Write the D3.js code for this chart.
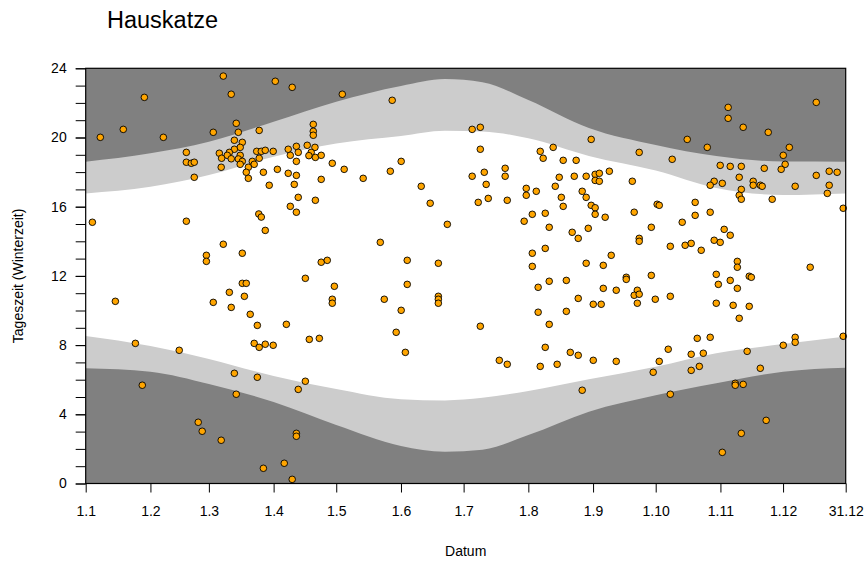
<!DOCTYPE html>
<head>
<meta charset="utf-8">
<script src="https://d3js.org/d3.v7.min.js"></script>
<style>
  body { margin: 0; background: #fff; }
  text { font-family: "Liberation Sans", Arial, sans-serif; fill: #000; }
</style>
</head>
<body>
<div id="chart"></div>
<script>
// x axis: day of year (0 = 1 Jan), tick labels as in the original
var tickDays = [0, 31, 59, 90, 120, 151, 181, 212, 243, 273, 304, 334, 364];
var tickLabels = ["1.1", "1.2", "1.3", "1.4", "1.5", "1.6", "1.7", "1.8", "1.9", "1.10", "1.11", "1.12", "31.12"];
var hourTicks = [0, 4, 8, 12, 16, 20, 24];

// light bands (hours, winter time)
var bandDays = [0, 31, 59, 90, 120, 151, 172, 190, 212, 241, 273, 302, 334, 364];
var dawn     = [6.66, 6.46, 5.75, 4.71, 3.38, 2.17, 1.84, 1.95, 2.80, 4.15, 5.10, 5.79, 6.46, 6.69];
var sunrise  = [8.53, 7.95, 7.20, 6.21, 5.46, 4.87, 4.80, 4.95, 5.35, 6.02, 6.75, 7.53, 8.06, 8.50];
var sunset   = [16.77, 17.15, 17.83, 18.89, 19.66, 20.09, 20.39, 20.35, 19.95, 18.93, 18.09, 17.08, 16.68, 16.77];
var dusk     = [18.60, 19.09, 19.76, 20.91, 22.07, 22.98, 23.38, 23.20, 22.17, 20.55, 19.57, 18.93, 18.61, 18.60];

// sightings: [day of year, hour]
var sightings = [
  [65.9,23.55],[90.8,23.25],[98.9,22.90],[28.1,22.32],[69.7,22.50],[122.9,22.50],[72.1,20.82],[109.0,20.76],[18.0,20.47],[73.1,20.30],
  [109.0,20.36],[109.0,20.13],[61.1,20.30],[83.1,20.41],[7.0,20.01],[37.2,20.01],[71.2,19.84],[75.0,19.72],[106.1,19.55],[109.8,19.43],
  [74.0,19.43],[100.9,19.49],[71.2,19.32],[48.2,19.14],[64.0,19.09],[68.8,19.14],[81.9,19.20],[84.1,19.20],[86.0,19.26],[89.8,19.20],
  [97.0,19.32],[98.0,18.97],[101.8,19.14],[108.0,19.14],[106.9,18.95],[110.0,18.85],[112.8,18.97],[67.8,18.97],[74.0,18.97],[65.1,18.80],
  [69.7,18.77],[73.1,18.76],[75.0,18.62],[83.1,18.80],[79.8,18.62],[48.2,18.57],[50.6,18.51],[52.0,18.57],[100.9,18.62],[118.1,18.51],
  [74.0,18.45],[80.7,18.45],[77.9,18.28],[64.9,18.28],[123.8,18.16],[91.8,18.16],[76.9,17.99],[85.1,17.99],[97.0,17.93],[100.9,17.81],
  [52.0,17.70],[77.9,17.64],[112.8,17.58],[132.9,17.64],[99.9,17.29],[87.9,17.24],[101.8,16.54],[110.0,16.37],[98.0,16.02],
  [146.8,22.15],[185.1,20.47],[189.0,20.59],[242.1,19.89],[265.1,19.14],[280.9,18.74],[189.0,19.32],[217.7,19.20],[223.9,19.43],[219.1,18.80],
  [228.7,18.68],[234.9,18.68],[151.1,18.62],[145.9,18.05],[185.1,17.76],[190.9,17.99],[200.9,18.22],[200.9,17.76],[226.8,17.70],[234.0,17.76],
  [239.7,17.76],[244.0,17.87],[246.0,17.93],[250.8,18.05],[244.0,17.52],[246.0,17.47],[261.8,17.47],[191.8,17.29],[160.7,17.18],[211.0,17.06],
  [224.9,17.18],[237.8,16.89],[215.8,16.89],[211.0,16.66],[165.0,16.20],[188.0,16.25],[192.8,16.48],[201.9,16.37],[227.8,16.54],[239.7,16.54],
  [228.7,16.02],[242.1,16.08],[244.0,15.94],[273.7,16.14],[274.7,16.08],
  [307.7,21.74],[307.7,21.11],[349.9,22.03],[314.9,20.59],[326.9,20.30],[288.1,19.89],[297.7,19.43],[337.0,19.43],[334.1,18.97],[335.0,18.45],
  [333.1,18.16],[303.9,18.39],[308.7,18.33],[314.0,18.33],[325.0,18.22],[349.9,17.81],[356.1,18.05],[359.9,17.99],[313.0,17.70],[301.0,17.47],
  [299.1,17.24],[304.9,17.35],[319.7,17.47],[319.7,17.24],[323.1,17.24],[324.0,17.18],[339.8,17.18],[356.1,17.24],[314.0,17.00],[313.0,16.66],
  [314.0,16.43],[328.8,16.43],[355.2,16.77],[291.9,16.25],[362.8,15.91],
  [3.2,15.10],[48.2,15.16],[82.9,15.58],[84.1,15.40],[100.9,15.68],[86.0,14.63],[65.9,13.83],[57.8,13.19],[57.8,12.84],[75.0,13.31],
  [112.8,12.79],[115.7,12.90],[105.2,11.86],[119.1,11.40],[75.0,11.57],[76.9,11.57],[68.8,11.05],[76.0,10.82],[118.1,10.65],[118.1,10.42],
  [14.2,10.53],[61.1,10.47],[69.7,10.18],[78.8,9.78],[82.2,9.14],[96.1,9.20],[107.1,8.33],[111.9,8.39],[23.8,8.10],[80.7,8.10],
  [86.0,8.05],[89.8,7.99],
  [213.9,15.56],[220.1,15.62],[210.0,15.16],[222.0,14.81],[233.0,14.52],[235.9,14.17],[240.7,14.75],[173.2,14.98],[141.1,13.94],[154.0,12.90],
  [168.9,12.73],[213.9,13.31],[220.1,13.59],[213.9,12.55],[239.7,12.73],[222.0,11.69],[230.2,11.74],[216.7,11.34],[154.0,11.51],[143.0,10.65],
  [168.9,10.82],[168.9,10.65],[168.9,10.42],[235.9,10.70],[151.1,10.01],[216.7,9.90],[230.2,9.95],[222.0,9.20],[189.0,9.09],[148.7,8.74],
  [244.0,15.56],[248.8,15.39],[262.7,15.68],[291.9,15.50],[299.1,15.68],[270.9,14.81],[285.7,15.10],[305.8,14.69],[308.7,14.35],[265.1,14.17],
  [265.1,14.00],[280.0,13.71],[287.1,13.77],[290.0,13.88],[294.8,13.48],[301.0,14.06],[303.9,13.94],[251.7,13.19],[247.9,12.61],[312.1,12.84],
  [312.1,12.50],[347.0,12.50],[258.9,11.92],[258.9,11.80],[270.9,12.03],[302.0,12.09],[308.7,11.74],[317.8,11.98],[318.8,11.92],[303.0,11.51],
  [312.1,11.28],[247.9,11.28],[254.1,11.17],[264.2,11.17],[262.7,10.88],[265.1,10.94],[280.0,10.82],[272.8,10.65],[264.2,10.42],[243.1,10.36],
  [246.9,10.36],[302.0,10.42],[310.1,10.30],[317.8,10.24],[313.0,9.55],[292.9,8.39],[299.1,8.45],[339.8,8.45],[339.8,8.16],[334.1,7.99],
  [362.8,8.51],
  [83.1,7.87],[44.8,7.70],[71.2,6.37],[82.2,6.14],[105.2,5.91],[101.8,5.44],[27.1,5.68],[72.1,5.16],[53.9,3.54],[55.8,3.02],
  [64.9,2.50],[100.9,2.90],[100.9,2.73],[85.1,0.88],[95.1,1.17],[98.9,0.24],
  [153.1,7.58],[198.1,7.12],[201.9,6.89],[220.1,7.87],[217.7,6.77],[225.8,6.89],[232.1,7.58],[235.9,7.41],[237.8,5.39],
  [243.1,7.12],[254.1,7.06],[279.0,7.76],[274.7,7.06],[271.8,6.43],[290.0,7.47],[295.8,7.53],[290.0,6.54],[293.9,6.77],[316.8,7.64],
  [323.1,6.66],[311.1,5.79],[311.1,5.68],[314.9,5.73],[280.0,5.16],[325.9,3.65],[314.0,2.90],[304.9,1.80]
];

var width = 867, height = 562;
var plotLeft = 86, plotRight = 846, plotTop = 68, plotBottom = 484;

var svg = d3.select("#chart").append("svg")
    .attr("width", width)
    .attr("height", height);

var x = d3.scaleLinear().domain([0, 364]).range([plotLeft - 0.3, plotRight - 0.3]);
var y = d3.scaleLinear().domain([0, 24]).range([plotBottom - 0.5, plotTop + 0.3]);

var plot = svg.append("g");

// night background
plot.append("rect")
    .attr("x", x(0)).attr("y", y(24))
    .attr("width", x(364) - x(0)).attr("height", y(0) - y(24))
    .attr("fill", "#808080");

// twilight band and daylight band
var twilightArea = d3.area()
    .x(function(d, i) { return x(bandDays[i]); })
    .y0(function(d, i) { return y(dawn[i]); })
    .y1(function(d, i) { return y(dusk[i]); })
    .curve(d3.curveMonotoneX);

var dayArea = d3.area()
    .x(function(d, i) { return x(bandDays[i]); })
    .y0(function(d, i) { return y(sunrise[i]); })
    .y1(function(d, i) { return y(sunset[i]); })
    .curve(d3.curveMonotoneX);

plot.append("path").datum(bandDays).attr("d", twilightArea).attr("fill", "#cccccc");
plot.append("path").datum(bandDays).attr("d", dayArea).attr("fill", "#ffffff");

// points
plot.selectAll("circle")
    .data(sightings)
    .enter().append("circle")
    .attr("cx", function(d) { return x(d[0]); })
    .attr("cy", function(d) { return y(d[1]); })
    .attr("r", 3.3)
    .attr("fill", "#ffa500")
    .attr("stroke", "#000")
    .attr("stroke-width", 0.9);

// box
svg.append("rect")
    .attr("x", x(0)).attr("y", y(24))
    .attr("width", x(364) - x(0)).attr("height", y(0) - y(24))
    .attr("fill", "none").attr("stroke", "#000").attr("stroke-width", 1.2);

// x axis
var xAxis = d3.axisBottom(x)
    .tickValues(tickDays)
    .tickSize(9)
    .tickPadding(14)
    .tickFormat(function(d, i) { return tickLabels[i]; });

var gx = svg.append("g").attr("transform", "translate(0," + y(0) + ")").call(xAxis);
gx.select(".domain").remove();
gx.selectAll("line").attr("stroke", "#000");
gx.selectAll("text").style("font-size", "14px").attr("font-family", null);

// y axis: minor hourly ticks, labels every 4 hours
var gyMinor = svg.append("g").attr("transform", "translate(" + x(0) + ",0)")
    .call(d3.axisLeft(y).tickValues(d3.range(0, 25)).tickSize(10).tickFormat(""));
gyMinor.select(".domain").remove();
var gy = svg.append("g").attr("transform", "translate(" + x(0) + ",0)")
    .call(d3.axisLeft(y).tickValues(hourTicks).tickSize(10).tickPadding(9));
gy.select(".domain").remove();
gy.selectAll("text").style("font-size", "14px").attr("font-family", null);

// titles
svg.append("text")
    .attr("x", 107).attr("y", 28)
    .style("font-size", "23.5px")
    .text("Hauskatze");

svg.append("text")
    .attr("x", (x(0) + x(364)) / 2).attr("y", 556)
    .attr("text-anchor", "middle")
    .style("font-size", "14px")
    .text("Datum");

svg.append("text")
    .attr("transform", "translate(23," + ((y(0) + y(24)) / 2) + ") rotate(-90)")
    .attr("text-anchor", "middle")
    .style("font-size", "14px")
    .text("Tageszeit (Winterzeit)");
</script>
</body>
</html>
